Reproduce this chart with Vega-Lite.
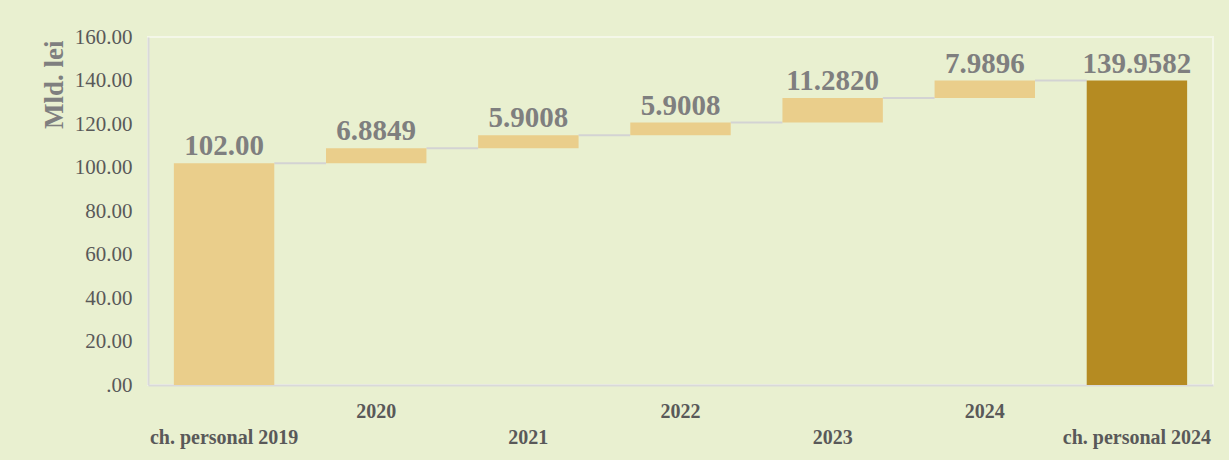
{
  "$schema": "https://vega.github.io/schema/vega-lite/v6.json",
  "autosize": {"type": "none"},
  "width": 1065,
  "height": 348,
  "padding": {"left": 148, "top": 37, "right": 16, "bottom": 75},
  "background": "#E9F0D0",
  "config": {
    "view": {"stroke": "#F4F7E8", "strokeWidth": 2},
    "font": "Liberation Serif"
  },
  "data": {
    "values": [
      {"cat": "ch. personal 2019", "start": 0, "end": 102.0, "label": "102.00", "kind": "start", "next": "2020"},
      {"cat": "2020", "start": 102.0, "end": 108.8849, "label": "6.8849", "kind": "change", "next": "2021"},
      {"cat": "2021", "start": 108.8849, "end": 114.7857, "label": "5.9008", "kind": "change", "next": "2022"},
      {"cat": "2022", "start": 114.7857, "end": 120.6865, "label": "5.9008", "kind": "change", "next": "2023"},
      {"cat": "2023", "start": 120.6865, "end": 131.9685, "label": "11.2820", "kind": "change", "next": "2024"},
      {"cat": "2024", "start": 131.9685, "end": 139.9582, "label": "7.9896", "kind": "change", "next": "ch. personal 2024"},
      {"cat": "ch. personal 2024", "start": 0, "end": 139.9582, "label": "139.9582", "kind": "end", "next": null}
    ]
  },
  "encoding": {
    "x": {
      "field": "cat",
      "type": "nominal",
      "sort": null,
      "scale": {"paddingInner": 0.34, "paddingOuter": 0.17},
      "axis": {
        "title": null,
        "labelAngle": 0,
        "ticks": false,
        "domainColor": "#D9D9D9",
        "domainWidth": 2,
        "labelFont": "Liberation Serif",
        "labelFontSize": 20,
        "labelFontWeight": "bold",
        "labelColor": "#595959",
        "labelBaseline": "top",
        "labelPadding": 16,
        "labelLineHeight": 26,
        "labelExpr": "indexof(['2020','2022','2024'], datum.value) >= 0 ? datum.value : ['', datum.value]"
      }
    }
  },
  "layer": [
    {
      "mark": {"type": "rule", "color": "#D3D3D3", "strokeWidth": 2, "xOffset": 50.2, "x2Offset": -50.2},
      "transform": [{"filter": "datum.next != null"}],
      "encoding": {
        "x2": {"field": "next"},
        "y": {"field": "end", "type": "quantitative"}
      }
    },
    {
      "mark": {"type": "bar"},
      "encoding": {
        "y": {
          "field": "start",
          "type": "quantitative",
          "scale": {"domain": [0, 160]},
          "axis": {
            "title": "Mld. lei",
            "values": [0, 20, 40, 60, 80, 100, 120, 140, 160],
            "labelExpr": "datum.value == 0 ? '.00' : format(datum.value, '.2f')",
            "ticks": false,
            "grid": false,
            "domainColor": "#D9D9D9",
            "domainWidth": 2,
            "labelFont": "Liberation Serif",
            "labelFontSize": 21,
            "labelColor": "#595959",
            "labelPadding": 16,
            "titleFont": "Liberation Serif",
            "titleFontSize": 27,
            "titleFontWeight": "bold",
            "titleColor": "#7F7F7F",
            "titleAngle": -90,
            "titleX": -94,
            "titleY": 3,
            "titleAlign": "right",
            "titleBaseline": "middle"
          }
        },
        "y2": {"field": "end"},
        "color": {
          "field": "kind",
          "type": "nominal",
          "scale": {"domain": ["start", "change", "end"], "range": ["#EACE8B", "#EACE8B", "#B58B22"]},
          "legend": null
        }
      }
    },
    {
      "mark": {"type": "text", "font": "Liberation Serif", "fontSize": 29, "fontWeight": "bold", "color": "#7F7F7F", "baseline": "alphabetic", "dy": -8},
      "encoding": {
        "y": {"field": "end", "type": "quantitative"},
        "text": {"field": "label"}
      }
    }
  ]
}
